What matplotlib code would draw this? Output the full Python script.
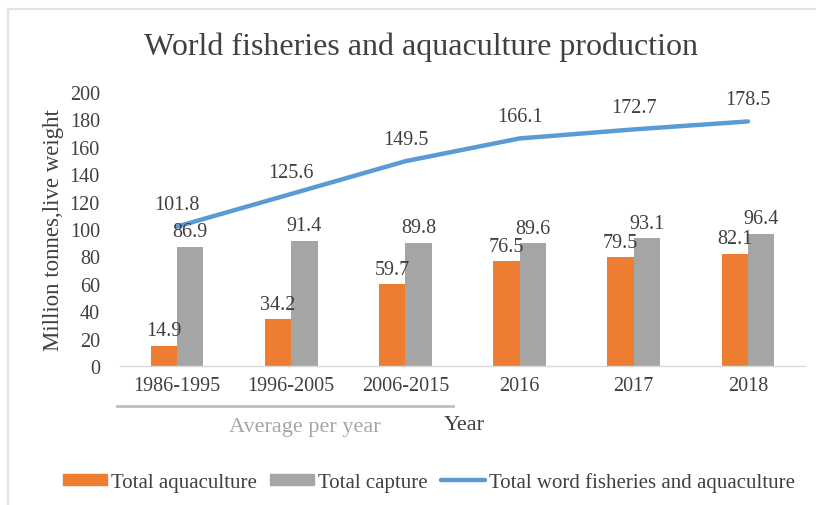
import matplotlib.pyplot as plt
import numpy as np
from matplotlib.patches import Patch
from matplotlib.lines import Line2D

categories = ['1986-1995', '1996-2005', '2006-2015', '2016', '2017', '2018']
aquaculture = [14.9, 34.2, 59.7, 76.5, 79.5, 82.1]
capture = [86.9, 91.4, 89.8, 89.6, 93.1, 96.4]
total = [101.8, 125.6, 149.5, 166.1, 172.7, 178.5]

orange = '#ED7D31'
gray = '#A5A5A5'
blue = '#5B9BD5'
txt = '#404040'

plt.rcParams['font.family'] = ['Liberation Serif', 'DejaVu Serif']

fig = plt.figure(figsize=(8.16, 5.06), dpi=100)
ax = fig.add_axes([120 / 816, 1 - 367 / 506, 685 / 816, 274 / 506])

x = np.arange(len(categories))
w = 0.23
ax.bar(x - w / 2, aquaculture, w, color=orange)
ax.bar(x + w / 2, capture, w, color=gray)
ax.plot(x, total, color=blue, lw=3.2, solid_capstyle='round')

fs = 14.5
for i in range(len(x)):
    ax.text(x[i] - w / 2, aquaculture[i] + 4, f'{aquaculture[i]:.1f}', ha='center',
            va='bottom', fontsize=fs, color=txt)
    ax.text(x[i] + w / 2, capture[i] + 4, f'{capture[i]:.1f}', ha='center',
            va='bottom', fontsize=fs, color=txt)
    ax.text(x[i], total[i] + 9, f'{total[i]:.1f}', ha='center',
            va='bottom', fontsize=fs, color=txt)

ax.set_xlim(-0.5, len(x) - 0.5)
ax.set_ylim(0, 200)
ax.set_yticks(range(0, 201, 20))
ax.set_xticks(x)
ax.set_xticklabels(categories)
ax.tick_params(axis='both', length=0, labelsize=fs, colors=txt, pad=7)
ax.tick_params(axis='y', pad=14.5)
for s in ['top', 'right', 'left']:
    ax.spines[s].set_visible(False)
ax.spines['bottom'].set_color('#D9D9D9')
ax.spines['bottom'].set_linewidth(1)

ax.set_ylabel('Million tonnes,live weight', fontsize=16.5, color=txt, labelpad=4)

fig.text(421 / 816, 1 - 47 / 506, 'World fisheries and aquaculture production',
         ha='center', va='center', fontsize=23, color=txt)

# group bracket for averaged periods
fig.add_artist(Line2D([117 / 816, 453 / 816], [1 - 407 / 506, 1 - 407 / 506],
                      color='#BFBFBF', lw=2))
fig.text(305 / 816, 1 - 428 / 506, 'Average per year', ha='center', va='center',
         fontsize=16, color='#A6A6A6')
fig.text(464 / 816, 1 - 426 / 506, 'Year', ha='center', va='center',
         fontsize=16, color=txt)

# outer frame
fig.add_artist(Line2D([8 / 816, 8 / 816], [0, 1 - 10 / 506], color='#E3E3E3', lw=1.5))
fig.add_artist(Line2D([8 / 816, 1], [1 - 10 / 506, 1 - 10 / 506], color='#E3E3E3', lw=1.5))

handles = [Patch(color=orange, label='Total aquaculture'),
           Patch(color=gray, label='Total capture'),
           Line2D([], [], color=blue, lw=3.2, solid_capstyle='round',
                  label='Total word fisheries and aquaculture')]
fig.legend(handles=handles, loc='center', bbox_to_anchor=(429 / 816, 1 - 483 / 506),
           ncol=3, frameon=False, fontsize=15, labelcolor=txt, handlelength=2.1,
           handleheight=0.5, handletextpad=0.2, columnspacing=0.65)

fig.savefig('out.png', dpi=100)
